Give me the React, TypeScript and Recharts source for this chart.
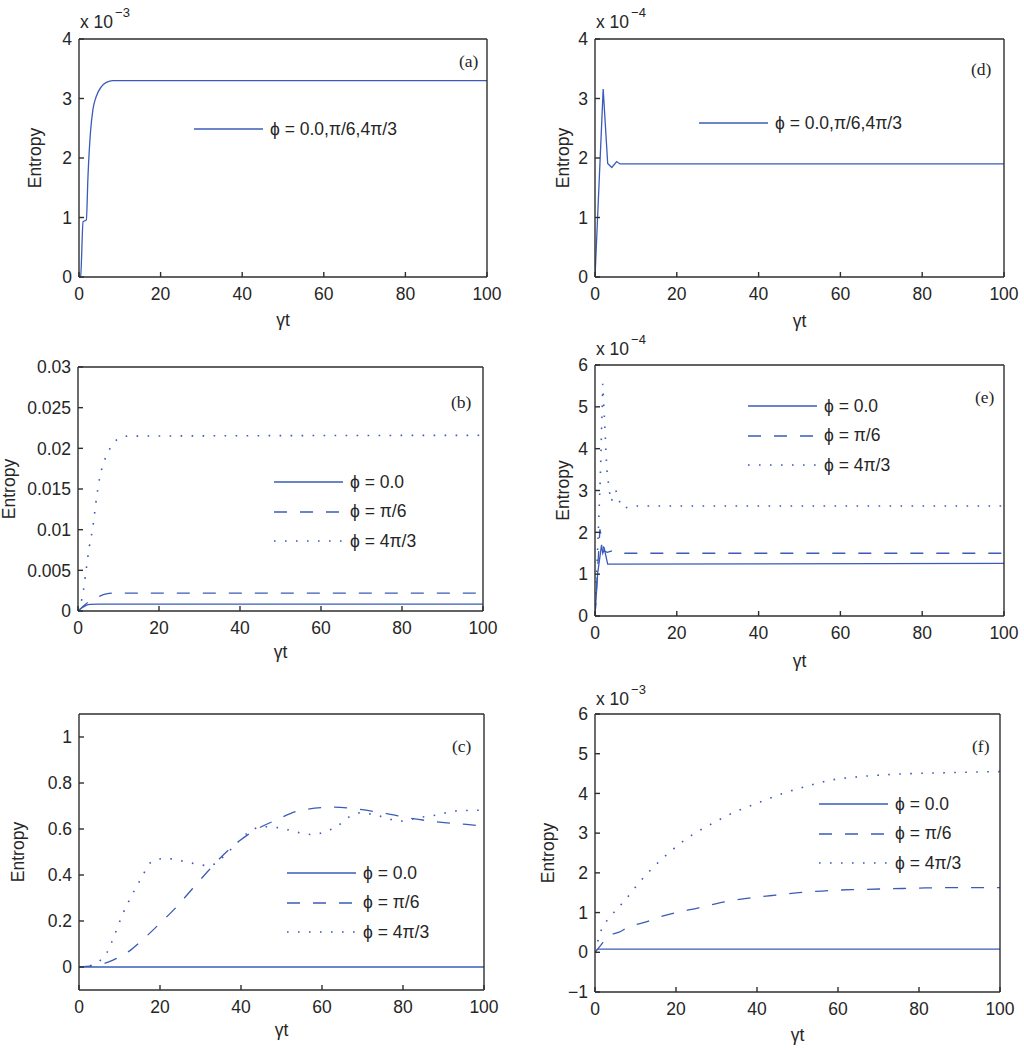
import { LineChart, Line, XAxis, YAxis, Legend } from 'recharts'

// x positions (γt) and entropy values
// (a) and (d) values are in units of 1e-3 and 1e-4 as shown on the axes
const aX = [0, 0.4, 1.0, 1.8, 2.2, 2.8, 3.4, 4.2, 5.5, 6.7, 8.3, 10, 100]
const aY = [0, 0.02, 0.93, 0.96, 1.69, 2.42, 2.81, 3.03, 3.2, 3.27, 3.3, 3.3, 3.3]

const dX = [0, 2.0, 3.1, 4.1, 5.3, 6.1, 100]
const dY = [0, 3.16, 1.91, 1.84, 1.94, 1.9, 1.9]

const bSolidX = [0, 1, 2, 3, 5, 100]
const bSolidY = [0, 0.0004, 0.0007, 0.00082, 0.00085, 0.00085]
const bDashX = [0, 2, 4, 5.4, 7, 9, 100]
const bDashY = [0, 0.0009, 0.0015, 0.00184, 0.0021, 0.00221, 0.00221]
const bDotX = [0, 1.3, 2, 2.8, 3.6, 4.6, 5.4, 6.2, 7.1, 8.3, 10, 12.4, 100]
const bDotY = [0, 0.0024, 0.005, 0.0079, 0.0101, 0.014, 0.0165, 0.018, 0.0192, 0.0203, 0.0212, 0.0215, 0.0216]

// (e) in units of 1e-4
const eSolidX = [0, 0.65, 1.6, 1.9, 2.3, 3.1, 100]
const eSolidY = [0, 1.02, 1.7, 1.5, 1.6, 1.24, 1.26]
const eDashX = [0, 1.2, 2.3, 3.0, 4.3, 5.5, 100]
const eDashY = [0, 2.07, 1.55, 1.52, 1.56, 1.5, 1.5]
const eDotX = [0, 0.8, 1.3, 1.9, 2.4, 2.9, 3.5, 3.9, 4.5, 5.1, 5.8, 7.0, 9.0, 100]
const eDotY = [0, 2.0, 3.33, 5.55, 4.53, 3.49, 3.0, 2.73, 2.85, 3.0, 2.77, 2.57, 2.63, 2.63]

const cSolidX = [0, 100]
const cSolidY = [0, 0]
const cDashX = [0, 5, 8.4, 12.5, 15.8, 20, 24, 28, 31.5, 37, 43, 48.8, 54.5, 62.8, 69.4, 75, 82.5, 89, 95.7, 100]
const cDashY = [0, 0.01, 0.03, 0.07, 0.12, 0.19, 0.26, 0.34, 0.41, 0.51, 0.59, 0.64, 0.68, 0.695, 0.685, 0.67, 0.645, 0.63, 0.62, 0.612]
const cDotX = [0, 2.6, 5, 6.8, 8.8, 10.9, 13.3, 15.8, 17, 19, 21.6, 25.7, 29.8, 32.3, 34.8, 38, 41.4, 45.5, 49.6, 52.9, 57.8, 61, 63.6, 67, 69.4, 74.3, 79.2, 84, 89, 92.4, 100]
const cDotY = [0, 0.005, 0.025, 0.06, 0.14, 0.235, 0.32, 0.4, 0.44, 0.467, 0.472, 0.46, 0.445, 0.44, 0.467, 0.52, 0.58, 0.61, 0.605, 0.59, 0.576, 0.59, 0.61, 0.656, 0.67, 0.656, 0.634, 0.65, 0.663, 0.678, 0.682]

// (f) in units of 1e-3
const fSolidX = [0, 0.8, 100]
const fSolidY = [0, 0.08, 0.08]
const fDashX = [0, 1.6, 3.3, 5.8, 8.2, 12.4, 17.3, 20.6, 25.6, 30.5, 37, 43.7, 50.3, 58.5, 65, 73.4, 81.6, 89.9, 100]
const fDashY = [0, 0.2, 0.42, 0.5, 0.63, 0.76, 0.93, 1.01, 1.12, 1.24, 1.35, 1.43, 1.5, 1.56, 1.58, 1.6, 1.62, 1.63, 1.63]
const fDotX = [0, 1.2, 4.1, 7.4, 10.7, 14, 19, 23.9, 28.9, 33.8, 38.7, 45.3, 51.9, 58.5, 65.1, 71.7, 78.3, 86.6, 94.8, 100]
const fDotY = [0, 0.46, 0.93, 1.31, 1.73, 2.1, 2.57, 2.95, 3.24, 3.5, 3.7, 3.96, 4.17, 4.34, 4.42, 4.47, 4.5, 4.52, 4.54, 4.55]

const xTicks = [0, 20, 40, 60, 80, 100]
const ticks4 = [0, 1, 2, 3, 4]
const ticksB = [0, 0.005, 0.01, 0.015, 0.02, 0.025, 0.03]
const ticksC = [0, 0.2, 0.4, 0.6, 0.8, 1]
const ticksE = [0, 1, 2, 3, 4, 5, 6]
const ticksF = [-1, 0, 1, 2, 3, 4, 5, 6]

const legendAll = ['ϕ = 0.0,π/6,4π/3']
const legend3 = ['ϕ = 0.0', 'ϕ = π/6', 'ϕ = 4π/3']

const BLUE = '#3a5cb8'
const FONT = '"Liberation Sans", Arial, Helvetica, sans-serif'
const SERIF = '"Liberation Serif", "Times New Roman", serif'
const FS = 17.5
const DASH = { solid: undefined, dash: '13 13', dot: '1.6 9.4' } as const
type Kind = keyof typeof DASH

const YW = 80
const MT = 12
const MR = 22
const XH = 60
const TICK = 5
const ROW = 29.5

const pts = (xs: number[], ys: number[]) => xs.map((x, i) => ({ x, y: ys[i] }))

type Series = { name: string; kind: Kind; xs: number[]; ys: number[] }
type PanelDef = {
  id: string
  l: number; r: number; t: number; b: number
  yDomain: [number, number]
  yTicks: number[]
  yLabelDist: number
  xLabelDist: number
  curve: 'linear' | 'monotone'
  series: Series[]
  legend: { x: number; y: number }
  tag: { x: number; y: number }
  exp?: { x: number; y: number; text: string }
}

const panels: PanelDef[] = [
  {
    id: '(a)', l: 79, r: 487, t: 39, b: 277, yDomain: [0, 4], yTicks: ticks4, yLabelDist: 44, xLabelDist: 49, curve: 'monotone',
    series: [{ name: legendAll[0], kind: 'solid', xs: aX, ys: aY }],
    legend: { x: 194, y: 129 }, tag: { x: 459, y: 67 }, exp: { x: 80, y: 28, text: '−3' },
  },
  {
    id: '(d)', l: 595, r: 1004, t: 39, b: 277, yDomain: [0, 4], yTicks: ticks4, yLabelDist: 32, xLabelDist: 50, curve: 'linear',
    series: [{ name: legendAll[0], kind: 'solid', xs: dX, ys: dY }],
    legend: { x: 699, y: 123 }, tag: { x: 971, y: 75 }, exp: { x: 596, y: 28, text: '−4' },
  },
  {
    id: '(b)', l: 78, r: 483, t: 367, b: 611, yDomain: [0, 0.03], yTicks: ticksB, yLabelDist: 69, xLabelDist: 47, curve: 'monotone',
    series: [
      { name: legend3[0], kind: 'solid', xs: bSolidX, ys: bSolidY },
      { name: legend3[1], kind: 'dash', xs: bDashX, ys: bDashY },
      { name: legend3[2], kind: 'dot', xs: bDotX, ys: bDotY },
    ],
    legend: { x: 274, y: 482 }, tag: { x: 451, y: 408 },
  },
  {
    id: '(e)', l: 595, r: 1004, t: 365, b: 616, yDomain: [0, 6], yTicks: ticksE, yLabelDist: 32, xLabelDist: 51, curve: 'linear',
    series: [
      { name: legend3[0], kind: 'solid', xs: eSolidX, ys: eSolidY },
      { name: legend3[1], kind: 'dash', xs: eDashX, ys: eDashY },
      { name: legend3[2], kind: 'dot', xs: eDotX, ys: eDotY },
    ],
    legend: { x: 748, y: 406 }, tag: { x: 975, y: 403 }, exp: { x: 596, y: 355, text: '−4' },
  },
  {
    id: '(c)', l: 79, r: 484, t: 714, b: 990, yDomain: [-0.1, 1.1], yTicks: ticksC, yLabelDist: 61, xLabelDist: 46, curve: 'monotone',
    series: [
      { name: legend3[0], kind: 'solid', xs: cSolidX, ys: cSolidY },
      { name: legend3[1], kind: 'dash', xs: cDashX, ys: cDashY },
      { name: legend3[2], kind: 'dot', xs: cDotX, ys: cDotY },
    ],
    legend: { x: 287, y: 873 }, tag: { x: 452, y: 752 },
  },
  {
    id: '(f)', l: 595, r: 1000, t: 714, b: 992, yDomain: [-1, 6], yTicks: ticksF, yLabelDist: 47, xLabelDist: 49, curve: 'monotone',
    series: [
      { name: legend3[0], kind: 'solid', xs: fSolidX, ys: fSolidY },
      { name: legend3[1], kind: 'dash', xs: fDashX, ys: fDashY },
      { name: legend3[2], kind: 'dot', xs: fDotX, ys: fDotY },
    ],
    legend: { x: 819, y: 804 }, tag: { x: 972, y: 752 }, exp: { x: 596, y: 705, text: '−3' },
  },
]

const fmt = (v: number) => (v < 0 ? '−' + Math.abs(v) : String(v))
const axisLine = { stroke: '#2e2e2e', strokeWidth: 1.4 }
const tickStyle = { fill: '#262626', fontSize: FS, fontFamily: FONT }
const labelStyle = { fill: '#262626', fontSize: FS, fontFamily: FONT }

function LegendBox({ series }: { series: Series[] }) {
  return (
    <div style={{ fontFamily: FONT, fontSize: FS, color: '#262626' }}>
      {series.map(s => (
        <div key={s.name} style={{ height: ROW, display: 'flex', alignItems: 'center', whiteSpace: 'nowrap' }}>
          <svg width={69} height={10} style={{ marginRight: 7 }}>
            <line x1={0} x2={69} y1={5} y2={5} stroke={BLUE} strokeWidth={s.kind === 'dot' ? 1.6 : 1.3} strokeDasharray={DASH[s.kind]} />
          </svg>
          <span>{s.name}</span>
        </div>
      ))}
    </div>
  )
}

function Panel({ p }: { p: PanelDef }) {
  const w = p.r - p.l
  const h = p.b - p.t
  const left = p.l - YW
  const top = p.t - MT
  return (
    <div style={{ position: 'absolute', left, top }}>
      <LineChart width={YW + w + MR} height={MT + h + XH} margin={{ top: MT - 1, right: MR - 1, left: 0, bottom: 0 }}>
        <XAxis
          xAxisId="b" type="number" dataKey="x" domain={[0, 100]} ticks={xTicks} interval={0} allowDataOverflow
          height={XH} tickSize={-TICK} tickMargin={TICK + 11} axisLine={axisLine} tickLine={axisLine} tick={tickStyle}
          label={{ value: 'γt', position: 'insideBottom', offset: XH - p.xLabelDist, style: labelStyle }}
        />
        <XAxis
          xAxisId="t" orientation="top" type="number" dataKey="x" domain={[0, 100]} ticks={xTicks} interval={0} allowDataOverflow
          height={1} tickSize={-TICK} axisLine={axisLine} tickLine={axisLine} tick={false}
        />
        <YAxis
          yAxisId="l" type="number" domain={p.yDomain} ticks={p.yTicks} interval={0} allowDataOverflow
          width={YW} tickSize={-TICK} tickMargin={TICK + 7} axisLine={axisLine} tickLine={axisLine} tick={tickStyle} tickFormatter={fmt}
          label={{ value: 'Entropy', angle: -90, position: 'insideLeft', offset: YW - p.yLabelDist, style: { ...labelStyle, textAnchor: 'middle' } }}
        />
        <YAxis
          yAxisId="r" orientation="right" type="number" domain={p.yDomain} ticks={p.yTicks} interval={0} allowDataOverflow
          width={1} tickSize={-TICK} axisLine={axisLine} tickLine={axisLine} tick={false}
        />
        {p.series.map(s => (
          <Line
            key={s.name} xAxisId="b" yAxisId="l" data={pts(s.xs, s.ys)} dataKey="y" name={s.name}
            type={p.curve} stroke={BLUE} strokeWidth={s.kind === 'dot' ? 1.6 : 1.3} strokeDasharray={DASH[s.kind]}
            dot={false} activeDot={false} isAnimationActive={false}
          />
        ))}
        <Legend
          layout="vertical" align="center" verticalAlign="middle"
          content={() => <LegendBox series={p.series} />}
          wrapperStyle={{ left: p.legend.x - left, top: p.legend.y - ROW / 2 - top, width: 'auto', height: 'auto' }}
        />
      </LineChart>
    </div>
  )
}

export default function App() {
  return (
    <div style={{ position: 'absolute', left: 0, top: 0, width: 1024, height: 1050, background: '#fff', overflow: 'hidden' }}>
      {panels.map(p => <Panel key={p.id} p={p} />)}
      <svg width={1024} height={1050} style={{ position: 'absolute', left: 0, top: 0, pointerEvents: 'none' }}>
        {panels.map(p => (
          <g key={p.id}>
            <text x={p.tag.x} y={p.tag.y} fontFamily={SERIF} fontSize={FS} fill="#262626">{p.id}</text>
            {p.exp && (
              <text x={p.exp.x} y={p.exp.y} fontFamily={FONT} fontSize={FS} fill="#262626">
                x 10<tspan dx={2} dy={-11} fontSize={13}>{p.exp.text}</tspan>
              </text>
            )}
          </g>
        ))}
      </svg>
    </div>
  )
}
